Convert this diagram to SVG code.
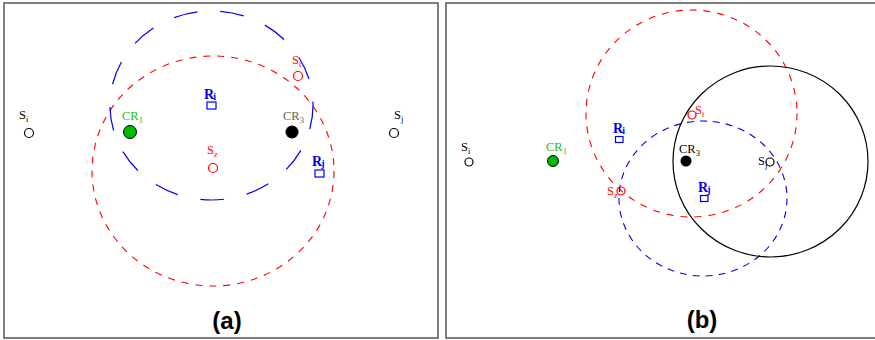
<svg xmlns="http://www.w3.org/2000/svg" width="875" height="340" viewBox="0 0 875 340">
<style>
.frame{fill:none;stroke:#555;stroke-width:1.5}
.lbl{font-family:"Liberation Serif","Times New Roman",serif;font-size:12.5px}
.rl{font-family:"Liberation Serif","Times New Roman",serif;font-size:14px;font-weight:bold;fill:#0000ee}
.cap{font-family:"Liberation Sans",Arial,sans-serif;font-size:24px;font-weight:bold;fill:#000;text-anchor:middle}
.sub{font-size:8.5px}
.rsub{font-size:10px}
.open{fill:#fff;stroke:#000;stroke-width:1.2}
.openr{fill:none;stroke:#ff0000;stroke-width:1.2}
.sq{fill:#fff;stroke:#0000ee;stroke-width:1.2}
.red{fill:none;stroke:#ff0000;stroke-width:1.1;stroke-dasharray:7 7}
.blue{fill:none;stroke:#0000ee;stroke-width:1.1;stroke-dasharray:7 6}
.bluelong{fill:none;stroke:#0000ee;stroke-width:1.2;stroke-dasharray:24 23}
</style>
<rect x="0" y="0" width="875" height="340" fill="#fff"/>
<rect class="frame" x="4" y="3" width="434" height="335"/>
<rect class="frame" x="446" y="3" width="432" height="335"/>

<g id="connectors">
  <ellipse class="red" cx="213" cy="171" rx="121" ry="115"/>
  <ellipse class="bluelong" cx="211.5" cy="105.5" rx="101.5" ry="94.5"/>
  <ellipse class="red" cx="691.5" cy="113.5" rx="105.5" ry="103.5"/>
  <ellipse class="blue" cx="703" cy="198.5" rx="84" ry="77.5"/>
  <ellipse fill="none" stroke="#000" stroke-width="1.2" cx="770.5" cy="161.5" rx="97.5" ry="95.5"/>
</g>

<!-- Panel (a) -->
<g id="a-si"><circle class="open" cx="29" cy="133" r="4.5"/><text class="lbl" x="19" y="119">S<tspan class="sub" dy="3">i</tspan></text></g>
<g id="a-cr1"><circle cx="130" cy="132" r="6.5" fill="#00bb00" stroke="#000" stroke-width="1"/><text class="lbl" x="122" y="120" fill="#22bb22">CR<tspan class="sub" dy="3">1</tspan></text></g>
<g id="a-cr3"><circle cx="292" cy="132" r="6.5" fill="#000"/><text class="lbl" x="283" y="120" fill="#66664a">CR<tspan class="sub" dy="3">3</tspan></text></g>
<g id="a-sj"><circle class="open" cx="394" cy="133" r="4.5"/><text class="lbl" x="394" y="119">S<tspan class="sub" dy="3">j</tspan></text></g>
<g id="a-ri"><rect class="sq" x="207" y="102" width="9" height="7"/><text class="rl" x="204" y="99">R<tspan class="rsub" dx="-1" dy="1">i</tspan></text></g>
<g id="a-sz"><circle class="openr" cx="213" cy="168" r="4.5"/><text class="lbl" x="207" y="154" fill="#ff0000">S<tspan class="sub" dy="3">z</tspan></text></g>
<g id="a-st"><circle class="openr" cx="298" cy="76" r="4.5"/><text class="lbl" x="292" y="64" fill="#ff0000">S<tspan class="sub" dy="3">t</tspan></text></g>
<g id="a-rj"><rect class="sq" x="315" y="170" width="9" height="7"/><text class="rl" x="312" y="166">R<tspan class="rsub" dx="-1" dy="1">j</tspan></text></g>
<text class="cap" x="227" y="329">(a)</text>

<!-- Panel (b) -->
<g id="b-si"><circle class="open" cx="469" cy="162" r="4"/><text class="lbl" x="461" y="151">S<tspan class="sub" dy="3">i</tspan></text></g>
<g id="b-cr1"><circle cx="553" cy="161" r="5.5" fill="#00bb00" stroke="#000" stroke-width="1"/><text class="lbl" x="546" y="151" fill="#22bb22">CR<tspan class="sub" dy="3">1</tspan></text></g>
<g id="b-ri"><rect class="sq" x="615.5" y="136.5" width="7.5" height="6"/><text class="rl" x="613" y="133">R<tspan class="rsub" dx="-1" dy="1">i</tspan></text></g>
<g id="b-sz"><circle class="openr" cx="621" cy="191" r="4"/><text class="lbl" x="607" y="195" fill="#ff0000">S<tspan class="sub" dy="3">z</tspan></text></g>
<g id="b-st"><circle class="openr" cx="692" cy="115" r="4"/><text class="lbl" x="695" y="114" fill="#ff0000">S<tspan class="sub" dy="3">t</tspan></text></g>
<g id="b-cr3"><circle cx="686" cy="161" r="5.5" fill="#000"/><text class="lbl" x="679" y="153" fill="#000">CR<tspan class="sub" dy="3">3</tspan></text></g>
<g id="b-sj"><circle class="open" cx="770" cy="162" r="4"/><text class="lbl" x="758" y="165">S<tspan class="sub" dy="3">j</tspan></text></g>
<g id="b-rj"><rect class="sq" x="700.5" y="195.5" width="7.5" height="6"/><text class="rl" x="698" y="192">R<tspan class="rsub" dx="-1" dy="1">j</tspan></text></g>
<text class="cap" x="702" y="328">(b)</text>
</svg>
